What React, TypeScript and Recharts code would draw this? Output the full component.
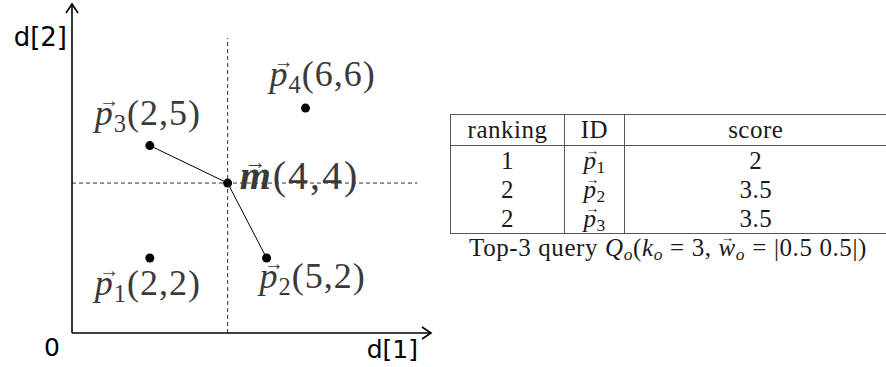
import React from "react";
import { ScatterChart, Scatter, XAxis, YAxis, ReferenceLine } from "recharts";

// points in the d[1] / d[2] plane
const pointNames = ["p1", "p2", "p3", "p4", "m"];
const d1Values = [2, 5, 2, 6, 4];
const d2Values = [2, 2, 5, 6, 4];

// segments drawn from p3 through m to p2
const pathNames = ["p3", "m", "p2"];

// table content
const rankings = ["1", "2", "2"];
const rowIds = ["1", "2", "3"];
const scores = ["2", "3.5", "3.5"];

const points = pointNames.map((name, i) => ({ name, d1: d1Values[i], d2: d2Values[i] }));
const pathPoints = pathNames.map((n) => points.find((p) => p.name === n)!);

const SERIF = "'Liberation Serif', 'Times New Roman', serif";
const SANS = "'DejaVu Sans', sans-serif";
const LABEL_FILL = "#3a3a3a";

// where each label starts relative to its dot (baseline)
const labelOffset: Record<string, { dx: number; dy: number; size: number; gap: number }> = {
  p1: { dx: -55, dy: 37, size: 36, gap: 1 },
  p2: { dx: -7, dy: 30, size: 36, gap: 1 },
  p3: { dx: -55, dy: -21, size: 36, gap: 1 },
  p4: { dx: -36, dy: -22, size: 36, gap: 1 },
  m: { dx: 12, dy: 6, size: 40, gap: 2 },
};

const PointShape = (props: any) => {
  const { cx, cy, payload } = props;
  const name: string = payload.name;
  const off = labelOffset[name];
  const x = cx + off.dx;
  const y = cy + off.dy;
  const s = off.size;
  const letter = name[0];
  const sub = name.slice(1);
  const coords = `(${payload.d1},${payload.d2})`;
  return (
    <g>
      <circle cx={cx} cy={cy} r={4.5} fill="#000" />
      <text x={x + s * 0.12} y={y - s * 0.5} fontFamily={SERIF} fontSize={s * 0.55} fill={LABEL_FILL}>
        →
      </text>
      <text x={x} y={y} fontFamily={SERIF} fontSize={s} fill={LABEL_FILL} letterSpacing={off.gap}>
        <tspan fontStyle="italic" fontWeight={letter === "m" ? 700 : 400}>{letter}</tspan>
        {sub && (
          <tspan fontSize={s * 0.68} dy={s * 0.2}>
            {sub}
          </tspan>
        )}
        <tspan dy={sub ? -s * 0.2 : 0}>{coords}</tspan>
      </text>
    </g>
  );
};

const XAxisArrow = (props: any) => {
  const { x1, y1, x2, y2 } = props;
  return (
    <g>
      <line x1={x1} y1={y1} x2={x2} y2={y2} stroke="#000" strokeWidth={1.6} />
      <path d={`M${x2 - 8},${y2 - 6} L${x2 + 1},${y2} L${x2 - 8},${y2 + 6}`} fill="none" stroke="#000" strokeWidth={1.6} />
      <text x={x2 - 12} y={y2 + 25} textAnchor="end" fontFamily={SANS} fontSize={25} fill="#000">
        d[1]
      </text>
      <text x={x1 - 12} y={y1 + 23} textAnchor="end" fontFamily={SANS} fontSize={25} fill="#000">
        0
      </text>
    </g>
  );
};

const YAxisArrow = (props: any) => {
  const { x1, y1, x2, y2 } = props;
  const top = Math.min(y1, y2);
  return (
    <g>
      <line x1={x1} y1={y1} x2={x2} y2={y2} stroke="#000" strokeWidth={1.6} />
      <path d={`M${x1 - 6},${top + 8} L${x1},${top - 1} L${x1 + 6},${top + 8}`} fill="none" stroke="#000" strokeWidth={1.6} />
      <text x={x1 - 5} y={top + 41} textAnchor="end" fontFamily={SANS} fontSize={26} fill="#000">
        d[2]
      </text>
    </g>
  );
};

// italic letter with a small arrow above it, plus an optional subscript
const Vec = ({ letter, sub }: { letter: string; sub: string }) => (
  <span style={{ whiteSpace: "nowrap" }}>
    <span
      style={{
        display: "inline-block",
        width: 0,
        position: "relative",
        top: -14,
        left: 2,
        fontSize: 14,
        lineHeight: "14px",
        letterSpacing: 0,
        overflow: "visible",
      }}
    >
      →
    </span>
    <i>{letter}</i>
    {sub && <span style={{ fontSize: "0.7em", position: "relative", top: "0.25em" }}>{sub}</span>}
  </span>
);

const Sub = ({ children }: { children: React.ReactNode }) => (
  <span style={{ fontSize: "0.7em", fontStyle: "italic", position: "relative", top: "0.25em" }}>{children}</span>
);

const Eq = () => <span style={{ margin: "0 7px" }}>=</span>;

const border = "1.5px solid #555";

export default function App() {
  const cell: React.CSSProperties = { borderLeft: border, padding: 0, textAlign: "center", height: 29 };
  return (
    <div style={{ position: "absolute", left: 0, top: 0, width: 886, height: 367, background: "#fff", overflow: "hidden" }}>
      <ScatterChart width={440} height={367} margin={{ top: 5, left: 72, right: 10, bottom: 34 }}>
        <XAxis type="number" dataKey="d1" domain={[0, 9.2]} hide />
        <YAxis type="number" dataKey="d2" domain={[0, 8.75]} hide />
        <ReferenceLine
          segment={[{ x: 4, y: 0 }, { x: 4, y: 7.87 }]}
          stroke="#333"
          strokeDasharray="4 3"
          strokeWidth={1}
        />
        <ReferenceLine
          segment={[{ x: 0, y: 4 }, { x: 8.88, y: 4 }]}
          stroke="#333"
          strokeDasharray="4 3"
          strokeWidth={1}
        />
        <ReferenceLine segment={[{ x: 0, y: 0 }, { x: 9.2, y: 0 }]} shape={XAxisArrow} />
        <ReferenceLine segment={[{ x: 0, y: 0 }, { x: 0, y: 8.75 }]} shape={YAxisArrow} />
        <Scatter
          data={pathPoints}
          line={{ stroke: "#000", strokeWidth: 1 }}
          shape={() => <g />}
          isAnimationActive={false}
        />
        <Scatter data={points} shape={PointShape} isAnimationActive={false} />
      </ScatterChart>

      <table
        style={{
          position: "absolute",
          left: 450,
          top: 114,
          width: 436,
          borderCollapse: "collapse",
          fontFamily: SERIF,
          fontSize: 25,
          letterSpacing: 0.5,
          color: "#1a1a1a",
          tableLayout: "fixed",
        }}
      >
        <colgroup>
          <col style={{ width: 114 }} />
          <col style={{ width: 60 }} />
          <col style={{ width: 262 }} />
        </colgroup>
        <thead>
          <tr style={{ borderTop: border, borderBottom: border }}>
            <th style={{ ...cell, fontWeight: 400, height: 30 }}>ranking</th>
            <th style={{ ...cell, fontWeight: 400, height: 30 }}>ID</th>
            <th style={{ ...cell, fontWeight: 400, height: 30 }}>score</th>
          </tr>
        </thead>
        <tbody>
          {rankings.map((r, i) => (
            <tr key={i} style={i === rankings.length - 1 ? { borderBottom: border } : undefined}>
              <td style={cell}>{r}</td>
              <td style={cell}>
                <Vec letter="p" sub={rowIds[i]} />
              </td>
              <td style={cell}>{scores[i]}</td>
            </tr>
          ))}
        </tbody>
      </table>
      <div
        style={{
          position: "absolute",
          left: 450,
          top: 234,
          width: 436,
          textAlign: "center",
          fontFamily: SERIF,
          fontSize: 25,
          letterSpacing: 0.6,
          color: "#1a1a1a",
          whiteSpace: "nowrap",
        }}
      >
        Top-3 query <i>Q</i>
        <Sub>o</Sub>(<i>k</i>
        <Sub>o</Sub>
        <Eq />3, <Vec letter="w" sub="" />
        <Sub>o</Sub>
        <Eq />|0.5 0.5|)
      </div>
    </div>
  );
}
